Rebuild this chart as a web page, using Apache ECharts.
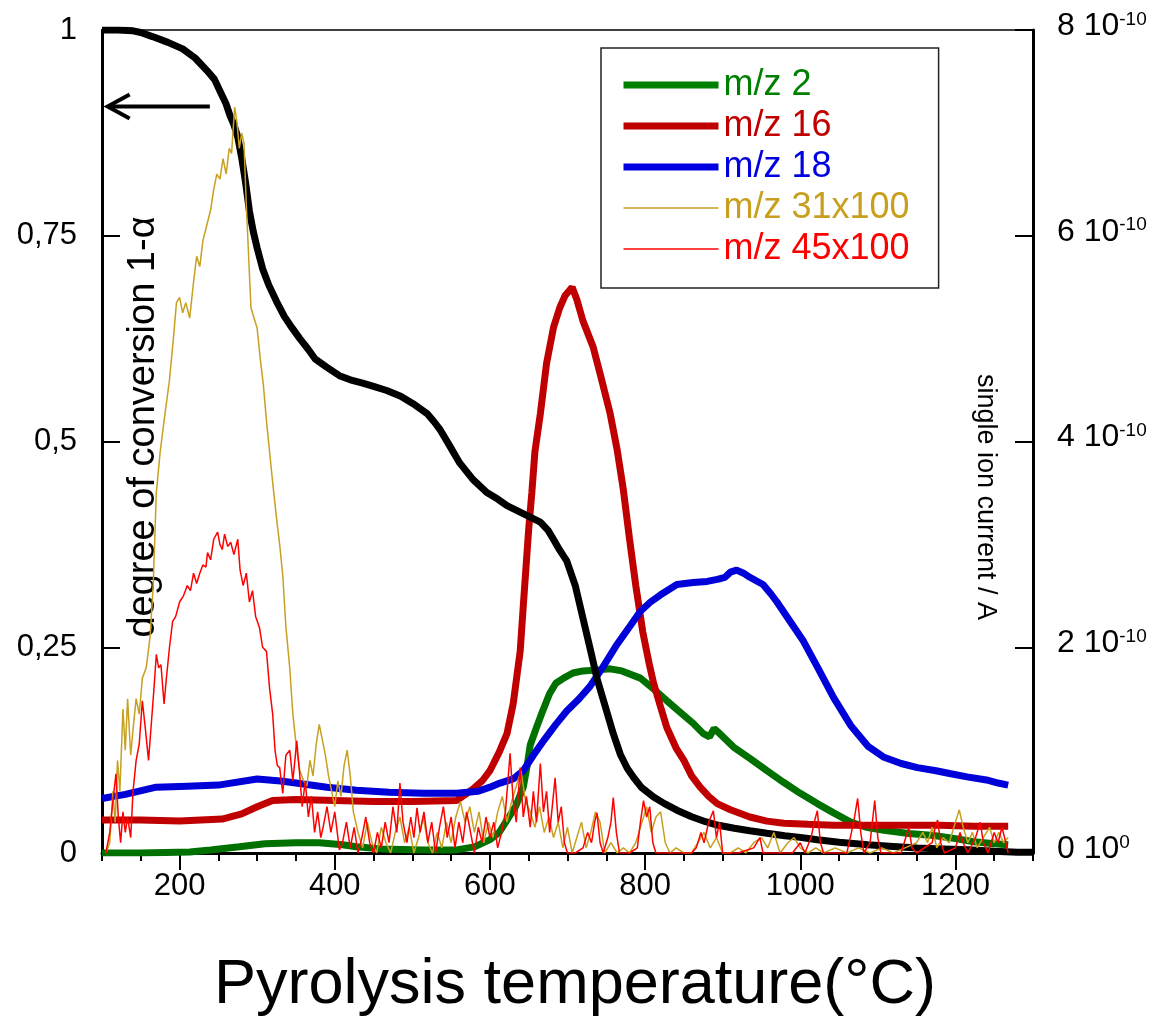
<!DOCTYPE html>
<html><head><meta charset="utf-8">
<script src="https://cdn.jsdelivr.net/npm/echarts@6/dist/echarts.min.js"></script>
<style>html,body{margin:0;padding:0;background:#fff}#c{width:1159px;height:1025px}</style>
</head><body><div id="c"></div>
<script>
const FONT = "'Liberation Sans', Arial, Helvetica, sans-serif";

// x axis labelled ticks (°C)
const xLabelTicks = [200, 400, 600, 800, 1000, 1200];
// left axis: degree of conversion 1-alpha ; right axis: ion current in 1e-10 A
const leftTicks = [0, 0.25, 0.5, 0.75, 1];
const rightTicks = [0, 2, 4, 6, 8];
const seriesNames = ['m/z 2', 'm/z 16', 'm/z 18', 'm/z 31x100', 'm/z 45x100'];

// degree of conversion (left axis)
const conversion = [[100,1.0],[120,1.0],[140,0.999],[150,0.997],[165,0.992],[185,0.985],[204,0.977],[220,0.966],[235,0.951],[245,0.94],[252,0.926],[260,0.91],[265,0.896],[270,0.885],[275,0.87],[280,0.845],[285,0.815],[290,0.78],[295,0.755],[300,0.735],[307,0.71],[315,0.69],[325,0.67],[335,0.652],[345,0.638],[355,0.625],[365,0.613],[375,0.60],[390,0.59],[406,0.58],[420,0.575],[436,0.571],[450,0.567],[467,0.562],[485,0.555],[501,0.546],[510,0.540],[519,0.534],[528,0.524],[536,0.514],[548,0.495],[561,0.474],[578,0.454],[596,0.438],[610,0.43],[622,0.422],[635,0.416],[648,0.41],[665,0.402],[675,0.392],[682,0.381],[690,0.368],[699,0.355],[710,0.325],[720,0.285],[730,0.245],[738,0.212],[748,0.18],[759,0.145],[768,0.12],[777,0.103],[785,0.092],[795,0.08],[811,0.068],[825,0.06],[841,0.052],[860,0.044],[878,0.038],[893,0.034],[915,0.03],[935,0.027],[957,0.024],[980,0.021],[1000,0.019],[1022,0.016],[1050,0.013],[1087,0.010],[1120,0.008],[1151,0.006],[1185,0.005],[1216,0.004],[1250,0.002],[1280,0.001],[1300,0.001]];

// m/z 2 (x1e-10 A)
const mz2 = [[100,0],[150,0],[213,0.01],[240,0.03],[277,0.06],[310,0.09],[350,0.10],[380,0.10],[410,0.08],[428,0.06],[460,0.04],[514,0.03],[557,0.03],[580,0.06],[600,0.13],[612,0.2],[622,0.32],[633,0.45],[643,0.64],[648,0.85],[652,1.05],[660,1.22],[668,1.38],[677,1.55],[685,1.65],[695,1.70],[707,1.75],[720,1.77],[740,1.78],[755,1.79],[770,1.77],[794,1.70],[810,1.60],[828,1.48],[845,1.37],[862,1.26],[875,1.16],[883,1.13],[889,1.21],[895,1.17],[914,1.03],[935,0.92],[957,0.80],[978,0.69],[1000,0.58],[1022,0.48],[1043,0.39],[1065,0.30],[1085,0.25],[1108,0.22],[1140,0.19],[1172,0.17],[1200,0.14],[1224,0.11],[1250,0.09],[1268,0.08]];

// m/z 16
const mz16 = [[100,0.32],[150,0.32],[200,0.31],[255,0.33],[280,0.38],[300,0.45],[320,0.51],[350,0.52],[400,0.51],[450,0.50],[500,0.50],[557,0.51],[578,0.62],[590,0.70],[600,0.80],[612,0.98],[622,1.16],[630,1.45],[639,1.96],[643,2.40],[647,2.83],[650,3.15],[654,3.50],[658,3.90],[665,4.27],[673,4.76],[682,5.11],[690,5.30],[697,5.42],[706,5.50],[712,5.38],[720,5.17],[733,4.92],[742,4.66],[755,4.27],[764,3.92],[772,3.53],[780,3.05],[788,2.60],[797,2.15],[805,1.85],[811,1.65],[820,1.42],[828,1.22],[840,1.02],[850,0.90],[860,0.75],[871,0.64],[882,0.55],[893,0.48],[910,0.42],[935,0.35],[957,0.31],[979,0.29],[1010,0.28],[1043,0.27],[1090,0.27],[1129,0.27],[1180,0.27],[1224,0.26],[1268,0.26]];

// m/z 18
const mz18 = [[100,0.53],[130,0.57],[170,0.64],[210,0.65],[250,0.66],[300,0.72],[330,0.70],[350,0.68],[390,0.64],[428,0.61],[470,0.59],[514,0.58],[557,0.58],[585,0.60],[600,0.64],[613,0.68],[630,0.72],[643,0.80],[656,0.95],[670,1.10],[685,1.25],[699,1.38],[715,1.50],[729,1.62],[745,1.80],[764,2.03],[780,2.20],[794,2.35],[807,2.44],[820,2.51],[841,2.61],[862,2.63],[880,2.64],[893,2.66],[903,2.68],[910,2.73],[918,2.75],[927,2.72],[935,2.68],[952,2.61],[962,2.52],[970,2.44],[987,2.25],[1004,2.06],[1022,1.81],[1043,1.51],[1065,1.24],[1087,1.04],[1108,0.93],[1130,0.87],[1151,0.83],[1175,0.80],[1194,0.77],[1215,0.74],[1240,0.71],[1255,0.68],[1268,0.66]];

// m/z 31 x100
const mz31 = [[105,0],[110,0.1],[114,0.6],[117,0.3],[120,0.9],[123,0.6],[127,1.4],[130,1.0],[133,1.5],[137,0.95],[140,1.2],[144,1.5],[148,1.35],[152,1.7],[157,1.8],[162,2.1],[166,2.6],[170,3.5],[175,3.9],[180,4.2],[187,4.6],[192,5.0],[196,5.35],[200,5.4],[204,5.25],[208,5.35],[213,5.2],[218,5.55],[222,5.8],[226,5.7],[230,5.95],[235,6.1],[240,6.25],[244,6.45],[248,6.6],[252,6.55],[256,6.75],[260,6.6],[264,6.85],[267,6.8],[271,7.25],[274,7.1],[277,6.85],[280,7.0],[283,6.9],[286,6.3],[289,5.8],[292,5.3],[296,5.2],[300,5.1],[304,4.8],[308,4.55],[312,4.2],[316,3.9],[320,3.6],[325,3.25],[329,3.0],[333,2.7],[337,2.2],[342,1.8],[346,1.35],[351,1.0],[355,0.8],[360,0.7],[364,0.65],[368,0.9],[372,0.75],[376,1.05],[380,1.25],[384,1.1],[388,0.95],[392,0.75],[396,0.6],[400,0.45],[404,0.7],[408,0.55],[412,0.85],[416,1.0],[420,0.75],[424,0.4],[430,0.2],[436,0.05],[442,0.3],[448,0.1],[454,0.0],[460,0.25],[466,0.1],[472,0.0],[478,0.2],[484,0.35],[490,0.1],[496,0.25],[502,0.0],[508,0.15],[514,0.35],[520,0.1],[526,0.0],[532,0.2],[538,0.05],[544,0.3],[550,0.1],[556,0.35],[562,0.5],[568,0.3],[574,0.45],[580,0.2],[586,0.4],[592,0.1],[598,0.3],[604,0.15],[610,0.4],[616,0.55],[622,0.3],[628,0.5],[634,0.65],[640,0.8],[646,0.5],[652,0.4],[658,0.25],[664,0.45],[670,0.2],[676,0.35],[682,0.15],[688,0.3],[694,0.05],[700,0.25],[706,0.0],[712,0.15],[718,0.3],[724,0.05],[730,0.2],[736,0.4],[742,0.3],[748,0.0],[756,0.1],[764,0.0],[772,0.05],[780,0.0],[788,0.1],[796,0.3],[802,0.45],[808,0.2],[814,0.35],[820,0.4],[826,0.1],[832,0.0],[840,0.05],[850,0.0],[860,0.0],[868,0.1],[876,0.2],[884,0.05],[892,0.15],[900,0.0],[910,0.0],[920,0.05],[930,0.0],[940,0.1],[950,0.15],[958,0.05],[966,0.2],[974,0.0],[984,0.1],[992,0.15],[1000,0.05],[1010,0.0],[1020,0.05],[1030,0.0],[1045,0.05],[1060,0.0],[1075,0.05],[1090,0.0],[1105,0.05],[1120,0.0],[1135,0.05],[1150,0.1],[1158,0.2],[1164,0.1],[1170,0.25],[1176,0.05],[1184,0.15],[1192,0.1],[1200,0.3],[1205,0.42],[1210,0.25],[1216,0.1],[1222,0.2],[1228,0.05],[1236,0.15],[1244,0.25],[1250,0.1],[1256,0.2],[1262,0.1],[1268,0.15]];

// m/z 45 x100
const mz45 = [[105,0],[110,0.2],[114,0.5],[118,0.77],[121,0.35],[124,0.1],[127,0.4],[130,0.2],[133,0.35],[137,0.15],[140,0.6],[144,0.9],[148,1.06],[152,1.48],[156,1.2],[160,0.9],[164,1.3],[167,1.6],[170,1.93],[173,1.8],[176,1.83],[180,1.45],[183,1.7],[187,2.0],[191,2.25],[195,2.3],[200,2.44],[205,2.5],[210,2.6],[214,2.55],[218,2.72],[222,2.62],[226,2.72],[230,2.8],[234,2.78],[236,2.92],[240,2.85],[244,3.05],[249,3.12],[252,3.0],[255,2.95],[258,3.1],[262,2.98],[266,3.02],[270,2.9],[275,3.05],[278,2.75],[282,2.6],[286,2.72],[290,2.44],[294,2.55],[298,2.3],[303,2.19],[307,2.0],[312,1.96],[316,1.6],[320,1.35],[323,1.0],[326,0.85],[329,0.83],[333,0.58],[337,0.95],[342,1.0],[346,0.7],[351,1.09],[355,0.75],[358,0.45],[362,0.7],[366,0.35],[370,0.55],[374,0.2],[378,0.4],[382,0.15],[385,0.25],[390,0.45],[395,0.2],[400,0.4],[406,0.03],[410,0.1],[415,0.3],[420,0.05],[425,0.25],[430,0.0],[435,0.15],[440,0.35],[445,0.1],[450,0.0],[455,0.2],[460,0.05],[465,0.3],[470,0.1],[475,0.45],[480,0.2],[484,0.68],[488,0.3],[493,0.1],[498,0.35],[502,0.15],[506,0.44],[510,0.2],[515,0.4],[520,0.1],[525,0.3],[530,0.0],[535,0.25],[540,0.45],[545,0.15],[550,0.35],[555,0.05],[560,0.3],[565,0.1],[570,0.4],[575,0.2],[580,0.0],[585,0.25],[590,0.1],[595,0.35],[600,0.15],[605,0.3],[610,0.05],[615,0.2],[620,0.4],[626,0.97],[630,0.5],[634,0.3],[639,0.83],[643,0.35],[647,0.55],[652,0.25],[656,0.6],[660,0.3],[665,0.87],[669,0.4],[673,0.6],[677,0.2],[681,0.5],[684,0.73],[688,0.3],[692,0.45],[696,0.1],[700,0.0],[710,0.0],[720,0.05],[726,0.2],[731,0.1],[735,0.3],[738,0.39],[742,0.1],[746,0.0],[752,0.15],[756,0.3],[759,0.54],[763,0.2],[767,0.0],[780,0.0],[790,0.05],[794,0.3],[798,0.51],[802,0.35],[806,0.45],[810,0.1],[814,0.0],[840,0.0],[860,0.0],[866,0.05],[872,0.2],[876,0.1],[882,0.3],[888,0.41],[892,0.15],[896,0.3],[900,0.0],[920,0.0],[940,0.05],[948,0.15],[952,0.0],[990,0.0],[1000,0.1],[1006,0.0],[1014,0.15],[1018,0.3],[1022,0.41],[1026,0.1],[1030,0.0],[1060,0.0],[1066,0.2],[1070,0.35],[1074,0.53],[1078,0.2],[1082,0.0],[1090,0.1],[1096,0.51],[1100,0.15],[1104,0.0],[1130,0.0],[1136,0.15],[1140,0.25],[1144,0.05],[1150,0.0],[1170,0.1],[1174,0.25],[1177,0.32],[1181,0.1],[1186,0.0],[1200,0.05],[1206,0.2],[1210,0.1],[1216,0.0],[1226,0.15],[1232,0.3],[1236,0.1],[1242,0.0],[1250,0.2],[1255,0.1],[1260,0.25],[1265,0.1],[1268,0.0]];

const chart = echarts.init(document.getElementById('c'), null, {renderer: 'canvas'});

function lineSeries(name, data, yIdx, color, width) {
  return {
    name: name, type: 'line', data: data, xAxisIndex: 0, yAxisIndex: yIdx,
    symbol: 'none', showSymbol: false, animation: false, silent: true,
    lineStyle: {color: color, width: width}, itemStyle: {color: color}
  };
}

const legendColors = ['#008000', '#c00000', '#0000e0', '#c8a020', '#ff0000'];
const legendWidths = [7, 7, 7, 1.5, 1.5];

const option = {
  animation: false,
  backgroundColor: '#fff',
  textStyle: {fontFamily: FONT},
  grid: {left: 102, right: 126, top: 24, bottom: 172, show: true, borderColor: '#000', borderWidth: 1.5, backgroundColor: 'transparent'},
  legend: {
    orient: 'vertical', left: 601, top: 48,
    padding: [19, 29, 21, 19],
    borderColor: '#222', borderWidth: 1.5,
    itemWidth: 95, itemHeight: 14, itemGap: 5,
    selectedMode: false,
    textStyle: {fontSize: 36, fontFamily: FONT},
    data: seriesNames.map((n, i) => ({
      name: n,
      textStyle: {color: legendColors[i], fontSize: 36, fontFamily: FONT},
      lineStyle: {width: legendWidths[i], color: legendColors[i]},
      itemStyle: {opacity: 0}
    }))
  },
  xAxis: [{
    type: 'value', min: 100, max: 1300, interval: 50,
    axisLine: {lineStyle: {color: '#000', width: 3}},
    axisTick: {show: true, length: 8, lineStyle: {color: '#000', width: 2}},
    axisLabel: {show: false},
    splitLine: {show: false},
    name: 'Pyrolysis temperature(°C)', nameLocation: 'middle', nameGap: 101,
    nameTextStyle: {fontSize: 63, color: '#000', fontFamily: FONT, padding: [0, 0, 0, 15]}
  }, {
    type: 'value', min: 100, max: 1300, interval: 50, position: 'bottom',
    axisLine: {show: false},
    axisTick: {show: true, length: 17, customValues: xLabelTicks, lineStyle: {color: '#000', width: 2}},
    axisLabel: {show: true, customValues: xLabelTicks, fontSize: 31, color: '#000', margin: 18, fontFamily: FONT,
      formatter: v => String(v)},
    splitLine: {show: false}
  }],
  yAxis: [{
    type: 'value', min: 0, max: 1, interval: 0.25, position: 'left',
    axisLine: {show: true, lineStyle: {color: '#000', width: 3}},
    axisTick: {show: true, inside: true, length: 18, lineStyle: {color: '#000', width: 2}},
    axisLabel: {fontSize: 31, color: '#000', margin: 25, fontFamily: FONT,
      formatter: v => String(v).replace('.', ',')},
    splitLine: {show: false}
  }, {
    type: 'value', min: 0, max: 8, interval: 2, position: 'right',
    axisLine: {show: true, lineStyle: {color: '#000', width: 3}},
    axisTick: {show: true, inside: true, length: 18, lineStyle: {color: '#000', width: 2}},
    axisLabel: {margin: 24, color: '#000', fontFamily: FONT, padding: [0, 0, 8, 0],
      formatter: v => '{m|' + v + ' 10}{s|' + (v === 0 ? '0' : '-10') + '}',
      rich: {
        m: {fontSize: 32, lineHeight: 32, padding: [10, 0, 0, 0], verticalAlign: 'bottom', color: '#000', fontFamily: FONT},
        s: {fontSize: 19, lineHeight: 19, verticalAlign: 'top', color: '#000', fontFamily: FONT}
      }},
    splitLine: {show: false}
  }],
  series: [
    lineSeries('m/z 2', mz2, 1, '#007000', 7),
    lineSeries('m/z 16', mz16, 1, '#c00000', 7),
    lineSeries('m/z 18', mz18, 1, '#0000d8', 7),
    lineSeries('conversion', conversion, 0, '#000', 7),
    lineSeries('m/z 31x100', mz31, 1, '#c8a020', 1.5),
    lineSeries('m/z 45x100', mz45, 1, '#ff0000', 1.5)
  ]
};
chart.setOption(option);

// annotation arrow and rotated axis titles
const tip = chart.convertToPixel({xAxisIndex: 0, yAxisIndex: 0}, [106, 0.907]);
const tail = chart.convertToPixel({xAxisIndex: 0, yAxisIndex: 0}, [239, 0.907]);
chart.setOption({
  graphic: [
    {type: 'line', shape: {x1: tip[0] + 2, y1: tip[1], x2: tail[0], y2: tail[1]}, style: {stroke: '#000', lineWidth: 4}, silent: true},
    {type: 'polyline', shape: {points: [[tip[0] + 23, tip[1] - 12], [tip[0] + 1, tip[1]], [tip[0] + 23, tip[1] + 12]]}, style: {stroke: '#000', lineWidth: 4, fill: null}, silent: true},
    {type: 'text', x: 144, y: 427, rotation: Math.PI / 2, silent: true,
      style: {text: 'degree of conversion 1-α', font: '38px ' + FONT, fill: '#000', align: 'center', verticalAlign: 'middle'}},
    {type: 'text', x: 985, y: 497, rotation: -Math.PI / 2, silent: true,
      style: {text: 'single ion current / A', font: '27px ' + FONT, fill: '#000', align: 'center', verticalAlign: 'middle'}}
  ]
});
</script>
</body></html>
